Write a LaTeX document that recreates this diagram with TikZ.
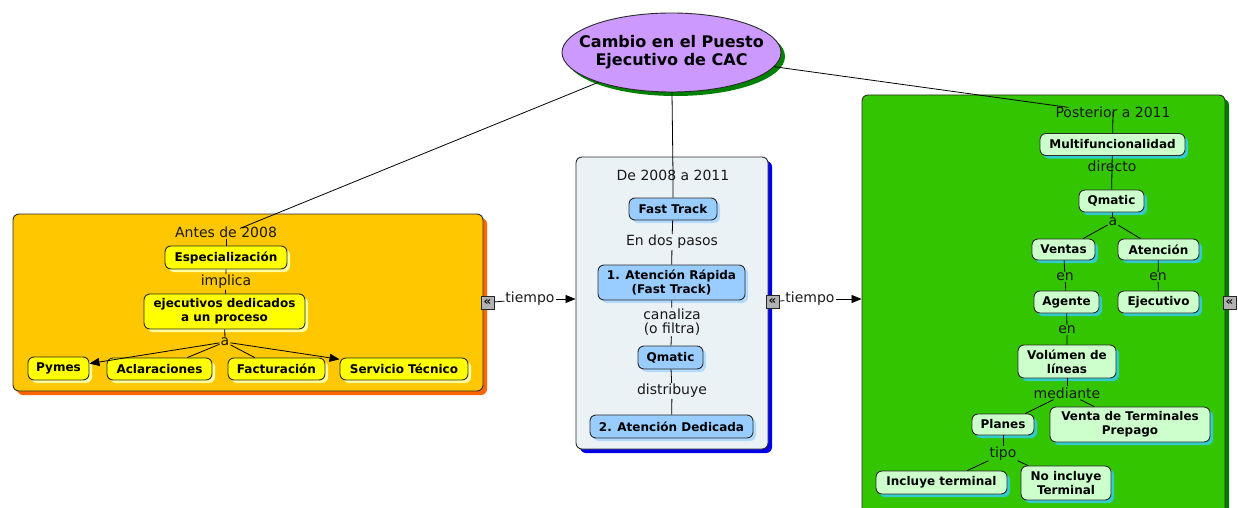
\documentclass[tikz,border=0pt]{standalone}
\usepackage{fontspec}
\setmainfont{DejaVu Sans}
\usetikzlibrary{shapes.geometric,shadows,arrows.meta,calc}
\definecolor{orFill}{HTML}{FFC700}
\definecolor{orShad}{HTML}{FF6600}
\definecolor{yeNode}{HTML}{FFFF00}
\definecolor{yeShad}{HTML}{FFFFA0}
\definecolor{miFill}{HTML}{EBF2F5}
\definecolor{miShad}{HTML}{0000E6}
\definecolor{blNode}{HTML}{99CCFF}
\definecolor{blShad}{HTML}{B3DAFF}
\definecolor{grFill}{HTML}{33C600}
\definecolor{grShad}{HTML}{007A00}
\definecolor{gnNode}{HTML}{CCFFCC}
\definecolor{gnShad}{HTML}{33CCCC}
\definecolor{puFill}{HTML}{CC99FF}
\definecolor{puShad}{HTML}{008000}
\definecolor{edgeC}{HTML}{2B2B2B}
\tikzset{
  grp/.style={draw=edgeC, line width=0.9pt, rounded corners=6pt, inner sep=0pt,
    drop shadow={shadow xshift=4pt, shadow yshift=-4pt, opacity=1, fill=#1}},
  concept/.style={draw=edgeC, line width=0.9pt, rounded corners=6pt, inner sep=1pt,
    align=center, font=\fontsize{12}{14}\selectfont\bfseries,
    drop shadow={shadow xshift=3pt, shadow yshift=-3pt, opacity=1, fill=#1}},
  ycon/.style={concept=yeShad, fill=yeNode},
  bcon/.style={concept=blShad, fill=blNode},
  gcon/.style={concept=gnShad, fill=gnNode},
  lnk/.style={inner sep=1pt, align=center, font=\fontsize{14}{14}\selectfont, text=black!90},
  conn/.style={draw=black, line width=0.8pt},
  arr/.style={conn, -{Triangle[length=10pt,width=8pt]}},
  icon/.style={draw=gray!30!black, fill=gray!60, minimum width=13pt, minimum height=13pt,
    inner sep=0pt, font=\fontsize{12}{12}\selectfont\bfseries, text=gray!15!black, line width=0.7pt}
}
\begin{document}
\begin{tikzpicture}[x=1pt,y=-1pt]
\useasboundingbox (0,0) rectangle (1238,508);
% group boxes
\node[grp=orShad, fill=orFill, minimum width=470pt, minimum height=177pt] (gA) at (248,302.5) {};
\node[grp=miShad, fill=miFill, minimum width=192pt, minimum height=292pt] (gB) at (672,303) {};
\node[grp=grShad, fill=grFill, minimum width=363pt, minimum height=424pt] (gC) at (1043.5,307) {};
% root
\node[ellipse, draw=edgeC, line width=0.9pt, fill=puFill, minimum width=219pt, minimum height=79pt,
  inner sep=0pt, font=\fontsize{16}{18}\selectfont\bfseries,
  drop shadow={shadow xshift=4pt, shadow yshift=-4pt, opacity=1, fill=puShad}] (root) at (671.5,52.5)
  {\makebox[150pt]{\begin{tabular}{@{}c@{}}Cambio en el Puesto\\Ejecutivo de CAC\end{tabular}}};
% left group
\node[lnk] (antes) at (226,232) {Antes de 2008};
\node[ycon, minimum width=122pt, minimum height=23pt] (esp) at (226,257.5) {Especialización};
\node[lnk] (impl) at (226,282) {implica};
\node[ycon, minimum width=161pt, minimum height=35pt] (ejec) at (224.5,311.5) {ejecutivos dedicados\\a un proceso};
\node[lnk] (aL) at (225,342) {a};
\node[ycon, minimum width=61pt, minimum height=23pt] (pym) at (58.5,368.5) {Pymes};
\node[ycon, minimum width=105pt, minimum height=22pt] (acl) at (159.5,369) {Aclaraciones};
\node[ycon, minimum width=97pt, minimum height=22pt] (fac) at (276.5,369) {Facturación};
\node[ycon, minimum width=128pt, minimum height=22pt] (ser) at (404,369) {Servicio Técnico};
% middle group
\node[lnk] (de) at (673,175) {De 2008 a 2011};
\node[bcon, minimum width=88pt, minimum height=22pt] (ft) at (673,209) {Fast Track};
\node[lnk] (dos) at (672,242) {En dos pasos};
\node[bcon, minimum width=147pt, minimum height=35pt] (ar) at (671.5,282.5) {1. Atención Rápida\\(Fast Track)};
\node[lnk] (can) at (672,322) {canaliza\\(o filtra)};
\node[bcon, minimum width=65pt, minimum height=23pt] (qm1) at (670.5,357.5) {Qmatic};
\node[lnk] (dis) at (672,391) {distribuye};
\node[bcon, minimum width=163pt, minimum height=23pt] (ad) at (671.5,426.5) {2. Atención Dedicada};
% right group
\node[lnk] (post) at (1113,112) {Posterior a 2011};
\node[gcon, minimum width=145pt, minimum height=22pt] (mf) at (1112.5,144.5) {Multifuncionalidad};
\node[lnk] (dir) at (1112,166) {directo};
\node[gcon, minimum width=65pt, minimum height=22pt] (qm2) at (1111.5,201) {Qmatic};
\node[lnk] (aR) at (1113,222) {a};
\node[gcon, minimum width=63pt, minimum height=21pt] (ven) at (1063.5,249.5) {Ventas};
\node[gcon, minimum width=81pt, minimum height=21pt] (ate) at (1158.5,249.5) {Atención};
\node[lnk] (en1) at (1065,277) {en};
\node[lnk] (en2) at (1158,277) {en};
\node[gcon, minimum width=65pt, minimum height=22pt] (age) at (1066.5,302) {Agente};
\node[gcon, minimum width=81pt, minimum height=22pt] (eje) at (1158.5,302) {Ejecutivo};
\node[lnk] (en3) at (1067,330) {en};
\node[gcon, minimum width=98pt, minimum height=33pt] (vol) at (1067,361.5) {Volúmen de\\líneas};
\node[lnk] (med) at (1067,393) {mediante};
\node[gcon, minimum width=62pt, minimum height=21pt] (pla) at (1003,424.5) {Planes};
\node[gcon, minimum width=160pt, minimum height=35pt] (vta) at (1130,424.5) {Venta de Terminales\\Prepago};
\node[lnk] (tipo) at (1003,454) {tipo};
\node[gcon, minimum width=131pt, minimum height=23pt] (inc) at (941.5,482.5) {Incluye terminal};
\node[gcon, minimum width=90pt, minimum height=34pt] (noi) at (1066,483) {No incluye\\Terminal};
% icons and tiempo
\node[icon] (icA) at (487.5,302.5) {«};
\node[icon] (icB) at (772.5,301.5) {«};
\node[icon] (icC) at (1229.5,302.5) {«};
\node[lnk] (tA) at (530,299) {tiempo};
\node[lnk] (tB) at (810,299) {tiempo};
% connectors
\draw[conn] (root) -- ($(antes.north)+(14,3)$);
\draw[conn] (antes) -- (esp);
\draw[conn] (esp) -- (impl) -- (ejec);
\draw[conn] (ejec) -- (aL);
\draw[arr] (aL) -- (pym);
\draw[conn] (aL) -- (acl);
\draw[conn] (aL) -- (fac);
\draw[arr] (aL) -- (ser);
\draw[conn] (root) -- (de.center) -- (ft);
\draw[conn] (ft) -- (dos) -- (ar);
\draw[conn] (ar) -- (can) -- (qm1);
\draw[conn] (qm1) -- (dis) -- (ad);
\draw[conn] (root) -- ($(post.north west)+(14,2)$);
\draw[conn] (post.center) -- (mf);
\draw[conn] (mf) -- (dir.center) -- (qm2);
\draw[conn] (qm2) -- (aR);
\draw[conn] (aR) -- (ven);
\draw[conn] (aR) -- (ate);
\draw[conn] (ven) -- (en1) -- (age);
\draw[conn] (ate) -- (en2) -- (eje);
\draw[conn] (age) -- (en3) -- (vol);
\draw[conn] (vol) -- (med);
\draw[conn] (med) -- (pla);
\draw[conn] (med) -- (vta);
\draw[conn] (pla) -- (tipo);
\draw[conn] (tipo) -- (inc);
\draw[conn] (tipo) -- (noi);
\draw[conn] (icA) -- (tA);
\draw[arr] (tA) -- (tA -| gB.west);
\draw[conn] (icB) -- (tB);
\draw[arr] (tB) -- (tB -| gC.west);
\end{tikzpicture}
\end{document}
